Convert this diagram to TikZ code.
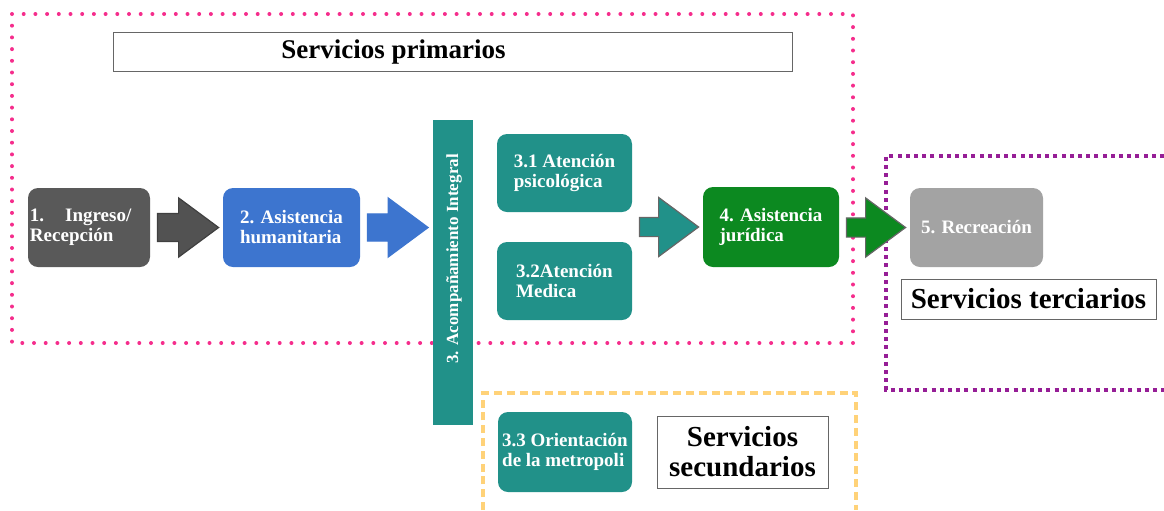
\documentclass[tikz,border=0pt]{standalone}
\usepackage{fontspec}
\setmainfont{Liberation Serif}
\usetikzlibrary{calc}
\definecolor{StepGray}{RGB}{89,89,89}
\definecolor{StepBlue}{RGB}{61,117,207}
\definecolor{StepTeal}{RGB}{33,145,137}
\definecolor{StepGreen}{RGB}{12,137,32}
\definecolor{StepLight}{RGB}{163,163,163}
\definecolor{LinePink}{RGB}{245,45,140}
\definecolor{LinePurple}{RGB}{150,30,150}
\definecolor{LineYellow}{RGB}{255,210,120}

\tikzset{
  stepbox/.style={rounded corners=5pt,minimum width=67.5pt,minimum height=39.5pt,
    inner sep=1pt,text=white,align=left,font=\fontsize{9.5}{10}\selectfont\bfseries},
  titlebox/.style={draw=black!60,line width=.5pt,inner sep=0pt,align=center,
    font=\fontsize{14.5}{15}\selectfont\bfseries},
  fatline/.style={line width=.6pt,line join=miter}
}

% block arrow: from, to, half shaft, options
\newcommand{\fatarrow}[4]{%
  \filldraw[fatline,#4] let \p1=($(#1.east)+(3.5pt,0pt)$), \p2=($(#2.west)+(-2pt,0pt)$) in
    (\x1,\y2+#3) -- (\x2-20pt,\y2+#3) -- (\x2-20pt,\y2+14.8pt) -- (\x2,\y2)
    -- (\x2-20pt,\y2-14.8pt) -- (\x2-20pt,\y2-#3) -- (\x1,\y2-#3) -- cycle;}

\begin{document}
\begin{tikzpicture}[x=.5pt,y=-.5pt]
\useasboundingbox (0,0) rectangle (1164,510);

\draw[LinePink,line width=2pt,line cap=round,dash pattern=on 0pt off 5.85pt]
  (12,14) rectangle (853,343);
\draw[LinePurple,line width=2pt,dash pattern=on 2pt off 2.1pt]
  (1164,156) -- (886,156) -- (886,390) -- (1164,390);
\draw[LineYellow,line width=2pt,dash pattern=on 4pt off 2.4pt]
  (483,510) -- (483,393) -- (856,393) -- (856,510);

\node[titlebox,minimum width=339.5pt,minimum height=19.5pt] (prim) at (452.5,51.5) {};
\node[font=\fontsize{13.5}{14}\selectfont\bfseries] (primtext) at (393.5,52) {Servicios primarios};

\node[stepbox,fill=StepGray,minimum width=61pt,text width=59pt] (ingreso) at (89,227.5)
  {1.\hspace{1.1em}Ingreso/\\Recepción};
\node[stepbox,fill=StepBlue,minimum width=68.5pt] (asist) at (291.5,227.5)
  {2. Asistencia\\humanitaria};
\node[fill=StepTeal,minimum width=20pt,minimum height=152.5pt,inner sep=0pt] (acomp) at (452.5,272.5) {};
\node[rotate=90,text=white,font=\fontsize{8.5}{9}\selectfont\bfseries] (acomptext) at (454,259)
  {3. Acompañamiento Integral};
\coordinate (acompin) at (acomp.west |- asist.east);
\node[stepbox,fill=StepTeal,minimum height=39pt] (psico) at (564.5,173)
  {3.1 Atención\\psicológica};
\node[stepbox,fill=StepTeal,minimum height=39pt] (medica) at (564.5,281)
  {3.2Atención\\Medica};
\node[stepbox,fill=StepTeal,minimum width=67pt,minimum height=40pt] (orient) at (565,452)
  {3.3 Orientación\\de la metropoli};
\node[stepbox,fill=StepGreen,minimum width=68pt,minimum height=40pt] (juridica) at (771,227)
  {4. Asistencia\\jurídica};
\node[stepbox,fill=StepLight,minimum width=66.5pt] (recrea) at (976.5,227.5)
  {5. Recreación};

\node[titlebox,minimum width=127.5pt,minimum height=20pt] (terc) at (1028.5,299) {Servicios terciarios};
\node[titlebox,minimum width=85.5pt,minimum height=36pt] (secu) at (742.5,452) {Servicios\\secundarios};

\fatarrow{ingreso}{asist}{7pt}{fill=StepGray!92!black,draw=black!75}
\fatarrow{asist}{acompin}{6.8pt}{fill=StepBlue,draw=StepBlue}
\fatarrow{psico}{juridica}{4.8pt}{fill=StepTeal,draw=black!60}
\fatarrow{juridica}{recrea}{4.8pt}{fill=StepGreen,draw=black!60}
\end{tikzpicture}
\end{document}
